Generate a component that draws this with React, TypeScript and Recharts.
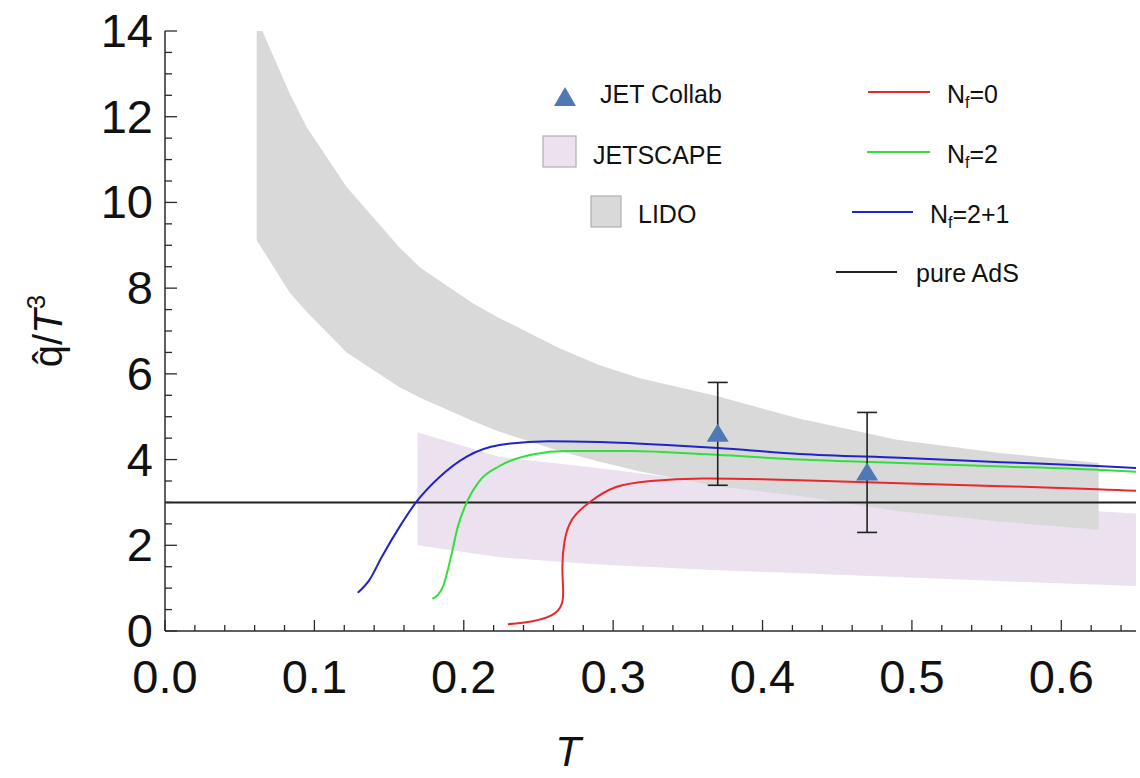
import React from 'react';
import { ComposedChart, Area, Line, Scatter, ErrorBar, XAxis, YAxis } from 'recharts';

// [T, low, high]
const lidoBand: [number, number, number][] = [
  [0.0614, 9.12, 14.3],
  [0.0834, 7.9, 12.55],
  [0.0948, 7.45, 11.76],
  [0.1216, 6.5, 10.36],
  [0.157, 5.69, 8.95],
  [0.1705, 5.45, 8.49],
  [0.206, 4.9, 7.65],
  [0.224, 4.65, 7.3],
  [0.264, 4.2, 6.6],
  [0.291, 3.95, 6.2],
  [0.318, 3.72, 5.9],
  [0.37, 3.38, 5.48],
  [0.425, 3.15, 4.95],
  [0.49, 2.8, 4.46],
  [0.56, 2.55, 4.15],
  [0.625, 2.36, 3.92],
];

const jetscapeBand: [number, number, number][] = [
  [0.169, 2.0, 4.64],
  [0.224, 1.72, 4.06],
  [0.291, 1.55, 3.8],
  [0.37, 1.42, 3.45],
  [0.49, 1.26, 3.1],
  [0.57, 1.15, 2.9],
  [0.652, 1.05, 2.74],
];

// [T, qhat/T^3]
const nf0: [number, number][] = [
  [0.2295, 0.16], [0.246, 0.23], [0.259, 0.37], [0.2655, 0.62], [0.2665, 1.0],
  [0.266, 1.5], [0.2675, 2.1], [0.2725, 2.6], [0.284, 3.0], [0.302, 3.36],
  [0.325, 3.5], [0.36, 3.56], [0.425, 3.52], [0.492, 3.45], [0.56, 3.38],
  [0.624, 3.31], [0.652, 3.27],
];

const nf2: [number, number][] = [
  [0.179, 0.75], [0.186, 1.03], [0.192, 1.82], [0.196, 2.43], [0.202, 3.0],
  [0.211, 3.52], [0.224, 3.85], [0.246, 4.12], [0.269, 4.2], [0.31, 4.2],
  [0.369, 4.11], [0.425, 4.0], [0.492, 3.92], [0.56, 3.84], [0.624, 3.76],
  [0.652, 3.71],
];

const nf21: [number, number][] = [
  [0.129, 0.89], [0.137, 1.2], [0.145, 1.72], [0.157, 2.43], [0.168, 3.0],
  [0.184, 3.6], [0.202, 4.07], [0.224, 4.34], [0.257, 4.43], [0.291, 4.41],
  [0.336, 4.34], [0.37, 4.27], [0.425, 4.13], [0.492, 4.04], [0.56, 3.94],
  [0.624, 3.85], [0.652, 3.8],
];

const pureAdS: [number, number][] = [[0, 3], [0.65, 3]];

// [T, value, error]
const jetCollab: [number, number, number][] = [
  [0.37, 4.6, 1.2],
  [0.47, 3.7, 1.4],
];

const xMajor = [0, 0.1, 0.2, 0.3, 0.4, 0.5, 0.6];
const yMajor = [0, 2, 4, 6, 8, 10, 12, 14];
const xTicks = Array.from({ length: 33 }, (_, i) => Math.round(i * 2) / 100);
const yTicks = Array.from({ length: 29 }, (_, i) => i / 2);

const band = (rows: [number, number, number][]) => rows.map(([T, lo, hi]) => ({ T, range: [lo, hi] }));
const curve = (rows: [number, number][]) => rows.map(([T, v]) => ({ T, v }));

const FONT = '"Liberation Sans", Arial, sans-serif';
const AXIS = '#2a2a2a';

const isMajorX = (v: number) => xMajor.some((m) => Math.abs(m - v) < 1e-6);
const isMajorY = (v: number) => yMajor.includes(v);

function BottomTick({ x, y, payload }: any) {
  const major = isMajorX(payload.value);
  return (
    <g>
      <line x1={x} x2={x} y1={y} y2={y - (major ? 11 : 6)} stroke={AXIS} strokeWidth={1.3} />
      {major && (
        <text x={x} y={y + 62} textAnchor="middle" fontSize={47} fontFamily={FONT} fill="#111">
          {payload.value.toFixed(1)}
        </text>
      )}
    </g>
  );
}

function TopTick({ x, y, payload }: any) {
  const major = isMajorX(payload.value);
  return <line x1={x} x2={x} y1={y} y2={y + (major ? 11 : 6)} stroke={AXIS} strokeWidth={1.3} />;
}

function LeftTick({ x, y, payload }: any) {
  const major = isMajorY(payload.value);
  return (
    <g>
      <line x1={x} x2={x + (major ? 12 : 7)} y1={y} y2={y} stroke={AXIS} strokeWidth={1.3} />
      {major && (
        <text x={x - 12} y={y + 16} textAnchor="end" fontSize={47} fontFamily={FONT} fill="#111">
          {payload.value}
        </text>
      )}
    </g>
  );
}

function RightTick({ x, y, payload }: any) {
  const major = isMajorY(payload.value);
  return <line x1={x} x2={x - (major ? 12 : 7)} y1={y} y2={y} stroke={AXIS} strokeWidth={1.3} />;
}

function Triangle({ cx, cy }: any) {
  return <polygon points={`${cx},${cy - 10} ${cx - 11},${cy + 8} ${cx + 11},${cy + 8}`} fill="#4f79b4" />;
}

function Nf({ x, y, rest }: { x: number; y: number; rest: string }) {
  return (
    <text x={x} y={y} fontSize={25} fontFamily={FONT} fill="#111">
      N
      <tspan fontSize={16} dy={5}>f</tspan>
      <tspan dy={-5}>{rest}</tspan>
    </text>
  );
}

function LegendBox() {
  const label = { fontSize: 25, fontFamily: FONT, fill: '#111' };
  return (
    <g>
      <polygon points="565,87 554,106 576,106" fill="#4f79b4" />
      <text x={600} y={103} {...label}>JET Collab</text>
      <rect x={543} y={136} width={33} height={31} fill="#ebe1ef" stroke="#b0b0b0" strokeWidth={1.2} />
      <text x={593} y={164} {...label}>JETSCAPE</text>
      <rect x={591} y={196} width={30} height={31} fill="#d9d9d9" stroke="#b0b0b0" strokeWidth={1.2} />
      <text x={638} y={223} {...label}>LIDO</text>

      <line x1={868} x2={930} y1={92} y2={92} stroke="#e8282b" strokeWidth={2} />
      <Nf x={947} y={103} rest="=0" />
      <line x1={867} x2={930} y1={152} y2={152} stroke="#2fe03a" strokeWidth={2} />
      <Nf x={947} y={163} rest="=2" />
      <line x1={852} x2={913} y1={212} y2={212} stroke="#2222c8" strokeWidth={2} />
      <Nf x={930} y={223} rest="=2+1" />
      <line x1={836} x2={897} y1={272} y2={272} stroke="#222" strokeWidth={2} />
      <text x={916} y={282} {...label}>pure AdS</text>
    </g>
  );
}

export default function App() {
  return (
    <div style={{ position: 'absolute', left: 0, top: 0, width: 1140, height: 778, background: '#fff' }}>
      <ComposedChart width={1140} height={778} margin={{ top: 31, right: 4, bottom: 0, left: 0 }}>
        <XAxis
          xAxisId="b"
          dataKey="T"
          type="number"
          orientation="bottom"
          domain={[0, 0.65]}
          allowDataOverflow
          ticks={xTicks}
          interval={0}
          height={147}
          tickSize={0}
          tickMargin={0}
          tickLine={false}
          tick={<BottomTick />}
          axisLine={{ stroke: AXIS, strokeWidth: 1.5 }}
        />
        <XAxis
          xAxisId="t"
          dataKey="T"
          type="number"
          orientation="top"
          domain={[0, 0.65]}
          allowDataOverflow
          ticks={xTicks}
          interval={0}
          height={0}
          tickSize={0}
          tickMargin={0}
          tickLine={false}
          tick={<TopTick />}
          axisLine={{ stroke: AXIS, strokeWidth: 1.5 }}
        />
        <YAxis
          yAxisId="l"
          type="number"
          domain={[0, 14]}
          allowDataOverflow
          ticks={yTicks}
          interval={0}
          width={165}
          tickSize={0}
          tickMargin={0}
          tickLine={false}
          tick={<LeftTick />}
          axisLine={{ stroke: AXIS, strokeWidth: 1.5 }}
        />
        <YAxis
          yAxisId="r"
          orientation="right"
          type="number"
          domain={[0, 14]}
          allowDataOverflow
          ticks={yTicks}
          interval={0}
          width={0}
          tickSize={0}
          tickMargin={0}
          tickLine={false}
          tick={<RightTick />}
          axisLine={{ stroke: AXIS, strokeWidth: 1.5 }}
        />

        <Area
          xAxisId="b"
          yAxisId="l"
          data={band(jetscapeBand)}
          dataKey="range"
          type="linear"
          stroke="none"
          fill="#ebe1ef"
          fillOpacity={1}
          isAnimationActive={false}
          activeDot={false}
        />
        <Area
          xAxisId="b"
          yAxisId="l"
          data={band(lidoBand)}
          dataKey="range"
          type="linear"
          stroke="none"
          fill="#d9d9d9"
          fillOpacity={1}
          isAnimationActive={false}
          activeDot={false}
        />
        <Line xAxisId="b" yAxisId="l" data={curve(pureAdS)} dataKey="v" type="linear" stroke="#222" strokeWidth={2} dot={false} activeDot={false} isAnimationActive={false} />
        <Line xAxisId="b" yAxisId="l" data={curve(nf0)} dataKey="v" type="natural" stroke="#e8282b" strokeWidth={2} dot={false} activeDot={false} isAnimationActive={false} />
        <Line xAxisId="b" yAxisId="l" data={curve(nf2)} dataKey="v" type="monotone" stroke="#2fe03a" strokeWidth={2} dot={false} activeDot={false} isAnimationActive={false} />
        <Line xAxisId="b" yAxisId="l" data={curve(nf21)} dataKey="v" type="monotone" stroke="#2222c8" strokeWidth={2} dot={false} activeDot={false} isAnimationActive={false} />
        <Scatter
          xAxisId="b"
          yAxisId="l"
          data={jetCollab.map(([T, v, err]) => ({ T, v, err }))}
          dataKey="v"
          shape={<Triangle />}
          isAnimationActive={false}
        >
          <ErrorBar dataKey="err" direction="y" width={10} stroke="#222" strokeWidth={1.6} isAnimationActive={false} />
        </Scatter>

        <LegendBox />

        <text
          x={62}
          y={331}
          transform="rotate(-90, 62, 331)"
          textAnchor="middle"
          fontSize={40}
          fontFamily={FONT}
          fill="#111"
        >
          q̂/<tspan fontStyle="italic">T</tspan>
          <tspan fontSize={26} dy={-17}>3</tspan>
        </text>
        <text x={568} y={766} textAnchor="middle" fontSize={42} fontStyle="italic" fontFamily={FONT} fill="#111">
          T
        </text>
      </ComposedChart>
    </div>
  );
}
